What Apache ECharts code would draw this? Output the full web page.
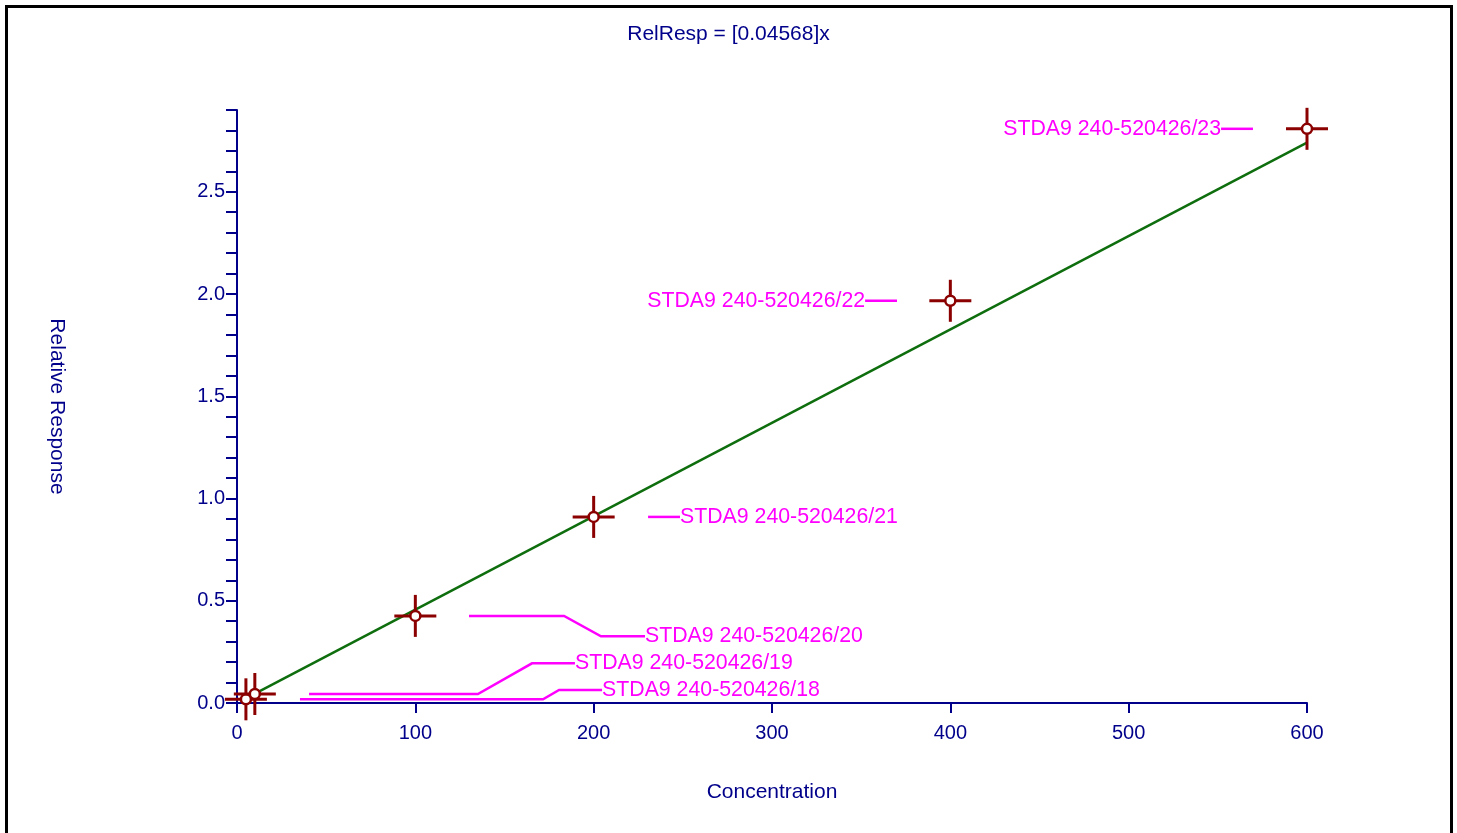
<!DOCTYPE html>
<html>
<head>
<meta charset="utf-8">
<title>Calibration curve</title>
<script src="https://cdn.jsdelivr.net/npm/echarts@6/dist/echarts.min.js"></script>
<style>
  html, body { margin: 0; padding: 0; background: #ffffff; }
  #chart { width: 1457px; height: 833px; }
</style>
</head>
<body>
<div id="chart"></div>
<script>
// Calibration standards: concentration vs. relative response
const sampleNames = [
  'STDA9 240-520426/18',
  'STDA9 240-520426/19',
  'STDA9 240-520426/20',
  'STDA9 240-520426/21',
  'STDA9 240-520426/22',
  'STDA9 240-520426/23'
];
const concentration = [5, 10, 100, 200, 400, 600];
const relResponse = [0.018, 0.044, 0.426, 0.910, 1.967, 2.808];

// Linear fit through the origin: RelResp = slope * (concentration / internal standard concentration)
const fitSlope = 0.04568;
const istdConcentration = 10;
const fitRange = [5, 600];

const xTicks = [0, 100, 200, 300, 400, 500, 600];

// Label placement for each standard (axis units): leader runs from `from` at the
// point's response level, optionally bends to `level`, and ends at `to` where the text sits.
const labelLayout = [
  { from: 35.3, bend: [171.6, 180.6], to: 204.7, level: 0.064 },
  { from: 40.4, bend: [135.1, 165.4], to: 189.5, level: 0.194 },
  { from: 130.1, bend: [183.4, 204.1], to: 228.8, level: 0.326 },
  { from: 230.5, to: 248.4 },
  { from: 370.1, to: 352.2 },
  { from: 569.7, to: 551.8 }
];

const NAVY = '#00008b';
const MARKER = '#8b0000';
const FIT = '#0e6e0e';
const LABEL = '#ff00ff';
const FONT = '"Liberation Sans", Arial, Helvetica, sans-serif';

const chart = echarts.init(document.getElementById('chart'), null, { renderer: 'canvas' });

const points = concentration.map((x, i) => [x, relResponse[i]]);
const fitLine = fitRange.map(x => [x, fitSlope * x / istdConcentration]);

const option = {
  animation: false,
  backgroundColor: '#ffffff',
  title: {
    text: 'RelResp = [' + fitSlope + ']x',
    left: 'center',
    top: 19,
    textStyle: { color: NAVY, fontSize: 21, fontWeight: 'normal', fontFamily: FONT }
  },
  graphic: [{
    type: 'rect',
    shape: { x: 6.5, y: 6.5, width: 1445, height: 900 },
    style: { fill: 'none', stroke: '#000000', lineWidth: 3 },
    silent: true
  }],
  grid: { left: 237, right: 150, top: 110, bottom: 130 },
  xAxis: {
    type: 'value',
    min: xTicks[0],
    max: xTicks[xTicks.length - 1],
    interval: xTicks[1] - xTicks[0],
    name: 'Concentration',
    nameLocation: 'middle',
    nameGap: 79,
    nameTextStyle: { color: NAVY, fontSize: 21, fontFamily: FONT },
    axisLine: { show: true, lineStyle: { color: NAVY, width: 2 } },
    axisTick: { show: true, length: 10, lineStyle: { color: NAVY, width: 2 } },
    axisLabel: { color: NAVY, fontSize: 20, fontFamily: FONT, margin: 20 },
    splitLine: { show: false }
  },
  yAxis: {
    type: 'value',
    min: 0,
    max: 2.9,
    interval: 0.1,
    name: 'Relative Response',
    nameLocation: 'middle',
    nameRotate: -90,
    nameGap: 170,
    nameTextStyle: { color: NAVY, fontSize: 21, fontFamily: FONT },
    axisLine: { show: true, lineStyle: { color: NAVY, width: 2 } },
    axisTick: { show: true, length: 11, lineStyle: { color: NAVY, width: 2 } },
    axisLabel: {
      color: NAVY, fontSize: 20, fontFamily: FONT, margin: 12,
      lineHeight: 24, padding: [4, 0, 0, 0],
      formatter: v => (Math.round(v * 10) % 5 === 0 ? v.toFixed(1) : '')
    },
    splitLine: { show: false }
  },
  series: [
    {
      name: 'fit',
      type: 'line',
      data: fitLine,
      symbol: 'none',
      lineStyle: { color: FIT, width: 2.5 },
      z: 3
    },
    {
      name: 'labels',
      type: 'custom',
      data: points,
      z: 4,
      renderItem: (params, api) => {
        const i = params.dataIndex;
        const lay = labelLayout[i];
        const y0 = api.value(1);
        const lvl = lay.level !== undefined ? lay.level : y0;
        const pts = [[lay.from, y0]];
        if (lay.bend) {
          pts.push([lay.bend[0], y0]);
          pts.push([lay.bend[1], lvl]);
        }
        pts.push([lay.to, lvl]);
        const px = pts.map(p => api.coord(p));
        const end = px[px.length - 1];
        return {
          type: 'group',
          children: [
            {
              type: 'polyline',
              shape: { points: px },
              style: { stroke: LABEL, lineWidth: 2.5, fill: 'none' }
            },
            {
              type: 'text',
              x: end[0],
              y: end[1],
              style: {
                text: sampleNames[i],
                fill: LABEL,
                font: '21.3px ' + FONT,
                align: lay.to > lay.from ? 'left' : 'right',
                verticalAlign: 'middle'
              }
            }
          ]
        };
      }
    },
    {
      name: 'standards',
      type: 'custom',
      data: points,
      z: 6,
      renderItem: (params, api) => {
        const p = api.coord([api.value(0), api.value(1)]);
        const arm = 21;
        const stroke = { stroke: MARKER, lineWidth: 3 };
        return {
          type: 'group',
          children: [
            { type: 'line', shape: { x1: p[0] - arm, y1: p[1], x2: p[0] + arm, y2: p[1] }, style: stroke },
            { type: 'line', shape: { x1: p[0], y1: p[1] - arm, x2: p[0], y2: p[1] + arm }, style: stroke },
            { type: 'circle', shape: { cx: p[0], cy: p[1], r: 5 }, style: { fill: '#ffffff', stroke: MARKER, lineWidth: 2.5 } }
          ]
        };
      }
    }
  ]
};

chart.setOption(option);
</script>
</body>
</html>
